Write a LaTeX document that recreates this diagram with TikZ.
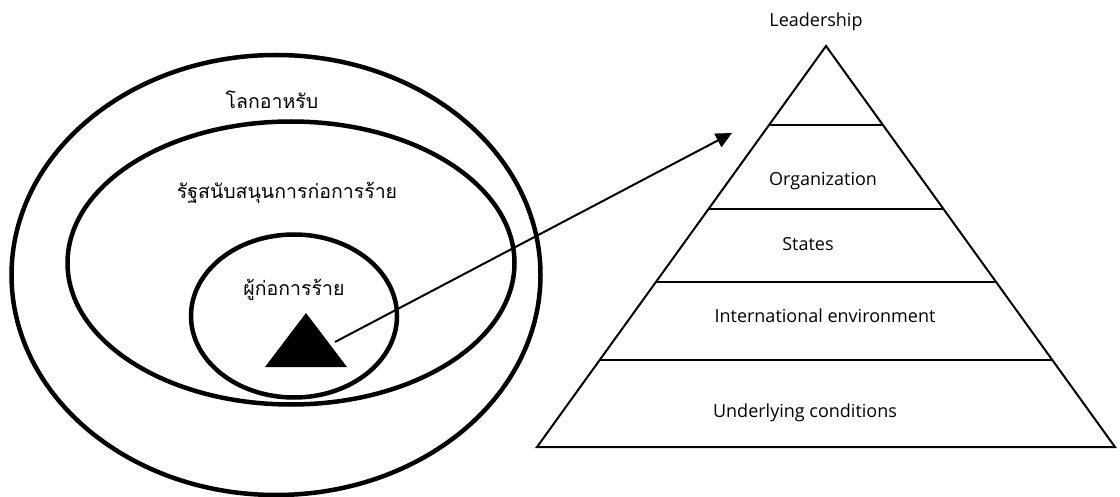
\documentclass[tikz,border=0pt]{standalone}
\usepackage{fontspec}
\setmainfont{Open Sans}
\newfontfamily\thaifont[Script=Thai]{Loma}
\usetikzlibrary{arrows.meta,calc,shapes.geometric}

\begin{document}
\begin{tikzpicture}
  [x=1pt,y=-1pt,
   ring/.style={ellipse,draw=black,line width=4.5pt,inner sep=0pt},
   thai/.style={font=\thaifont\fontsize{19.5}{22}\selectfont,inner sep=0pt},
   layer/.style={font=\fontsize{18}{21}\selectfont,inner sep=0pt},
   edge/.style={black,line width=2pt,line join=miter}]
  \useasboundingbox (0,0) rectangle (1120,497);
  % rings
  \node (world) [ring,minimum width=529,minimum height=440] at (276,275) {};
  \node (states) [ring,minimum width=447,minimum height=283] at (291,263) {};
  \node (group) [ring,minimum width=206,minimum height=163] at (294,316) {};
  \node (worldtxt) [thai] at (272,100) {โลกอาหรับ};
  \node (statestxt) [thai] at (287,193) {รัฐสนับสนุนการก่อการร้าย};
  \node (grouptxt) [thai] at (294,290) {ผู้ก่อการร้าย};
  % terrorist
  \fill (306,313) -- (347,367) -- (265,367) -- cycle;
  \coordinate (terr) at (335,342);
  % pyramid
  \coordinate (apex) at (826,46);
  \coordinate (bl) at (537,447);
  \coordinate (br) at (1115,447);
  \draw [edge] (apex) -- (br) -- (bl) -- cycle;
  \foreach \t in {0.197,0.406,0.588,0.783}
    \draw [edge] ($(apex)!\t!(bl)$) -- ($(apex)!\t!(br)$);
  \node (lead) [layer] at (816,22) {Leadership};
  \node (org) [layer] at (823,181) {Organization};
  \node (sta) [layer] at (808,244) {States};
  \node (intl) [layer] at (825,316) {International environment};
  \node (cond) [layer] at (805,413) {Underlying conditions};
  \coordinate (aim) at (732,133);
  \draw [edge,-{Triangle[length=16pt,width=15pt]}] (terr) -- (aim);
\end{tikzpicture}
\end{document}
